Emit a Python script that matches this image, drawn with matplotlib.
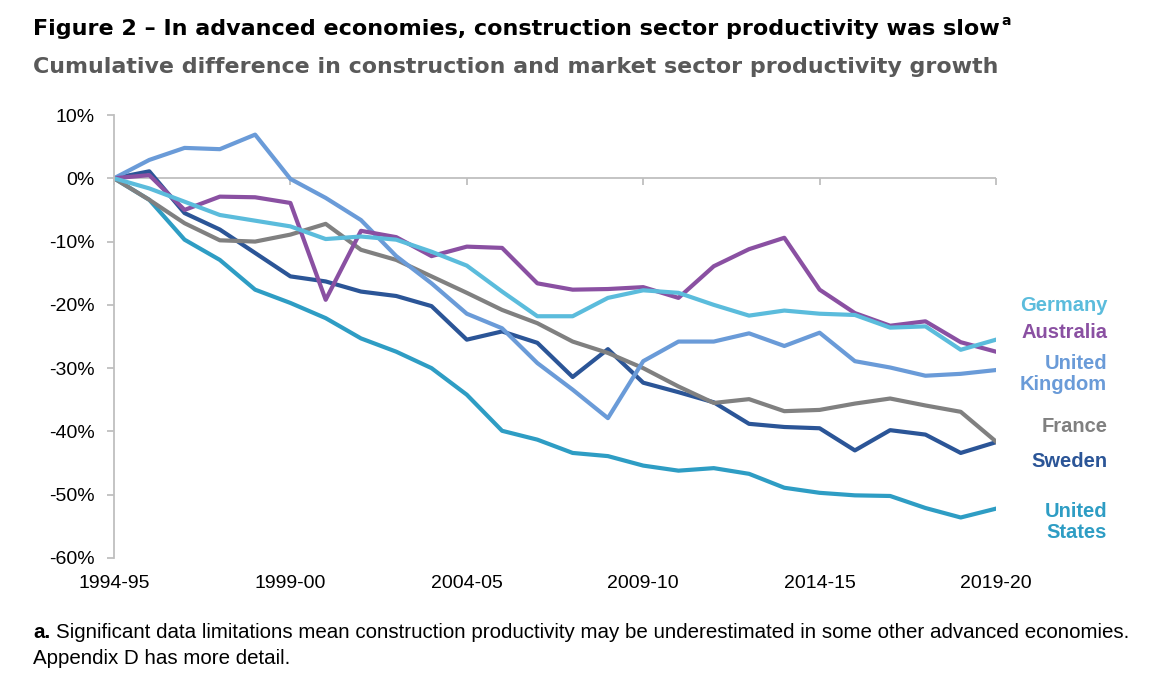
import numpy as np
from matplotlib import pyplot as plt
from matplotlib.ticker import NullFormatter

# financial years, one point per year
years = ["1994-95", "1995-96", "1996-97", "1997-98", "1998-99", "1999-00",
         "2000-01", "2001-02", "2002-03", "2003-04", "2004-05", "2005-06",
         "2006-07", "2007-08", "2008-09", "2009-10", "2010-11", "2011-12",
         "2012-13", "2013-14", "2014-15", "2015-16", "2016-17", "2017-18",
         "2018-19", "2019-20"]
xtick_labels = ["1994-95", "1999-00", "2004-05", "2009-10", "2014-15", "2019-20"]
ytick_values = [10, 0, -10, -20, -30, -40, -50, -60]
ytick_labels = ["10%", "0%", "-10%", "-20%", "-30%", "-40%", "-50%", "-60%"]

# cumulative difference, percent
germany = [0, -1.6, -3.7, -5.8, -6.7, -7.6, -9.6, -9.2, -9.7, -11.6, -13.8, -17.9,
           -21.8, -21.8, -18.9, -17.7, -18.1, -20.0, -21.7, -20.9, -21.4, -21.6,
           -23.6, -23.4, -27.1, -25.5]
australia = [0, 0.5, -5.0, -2.9, -3.0, -3.9, -19.2, -8.3, -9.3, -12.3, -10.8, -11.0,
             -16.6, -17.6, -17.5, -17.2, -18.9, -13.9, -11.2, -9.4, -17.6, -21.3,
             -23.3, -22.6, -25.9, -27.4]
uk = [0, 2.9, 4.8, 4.6, 6.9, -0.1, -3.1, -6.6, -12.3, -16.6, -21.4, -23.7,
      -29.2, -33.4, -37.9, -28.9, -25.8, -25.8, -24.5, -26.5, -24.4, -28.9,
      -29.9, -31.2, -30.9, -30.3]
france = [0, -3.4, -7.1, -9.8, -10.0, -8.9, -7.2, -11.3, -12.9, -15.5, -18.1, -20.8,
          -22.9, -25.8, -27.6, -30.0, -32.9, -35.5, -34.9, -36.8, -36.6, -35.6,
          -34.8, -35.9, -36.9, -41.6]
sweden = [0, 1.1, -5.5, -8.1, -11.8, -15.5, -16.3, -17.9, -18.6, -20.2, -25.5, -24.2,
          -26.0, -31.4, -27.0, -32.3, -33.8, -35.4, -38.8, -39.3, -39.5, -43.0,
          -39.8, -40.5, -43.4, -41.7]
us = [0, -3.4, -9.7, -12.9, -17.6, -19.7, -22.1, -25.3, -27.4, -30.0, -34.2, -39.9,
      -41.3, -43.4, -43.9, -45.4, -46.2, -45.8, -46.7, -48.9, -49.7, -50.1,
      -50.2, -52.1, -53.6, -52.2]

names = ["United\nStates", "Sweden", "France", "United\nKingdom", "Australia", "Germany"]
series = [us, sweden, france, uk, australia, germany]
colors = ["#2e9dc4", "#2b5597", "#808080", "#6a9bd8", "#8a50a2", "#5bbcdc"]
label_y = [-54.3, -44.8, -39.3, -30.9, -24.4, -20.1]

plt.rcParams['font.family'] = ['Liberation Sans', 'DejaVu Sans']

W, H = 1162, 694
fig = plt.figure(figsize=(W / 100, H / 100), dpi=100)
ax = fig.add_axes([114 / W, 1 - 558 / H, 882 / W, 443 / H])

x = np.arange(len(years))
ax.axhline(0, color="#bfbfbf", lw=1.3, zorder=1)
for vals, c in zip(series, colors):
    ax.plot(x, vals, color=c, lw=3, zorder=2)

ax.set_xlim(0, len(years) - 1)
ax.set_ylim(-60, 10)
ax.set_yticks(ytick_values)
ax.set_yticklabels(ytick_labels)
ax.set_xticks(x[::5])
ax.set_xticklabels(xtick_labels)

for s in ["top", "right", "bottom"]:
    ax.spines[s].set_visible(False)
ax.spines["left"].set_color("#bfbfbf")
ax.spines["left"].set_linewidth(1.3)
ax.tick_params(axis="y", length=5, width=1.3, color="#bfbfbf", labelsize=14, pad=9)
ax.tick_params(axis="x", length=0, labelsize=14, pad=12)

# tick marks hanging under the zero line
zero = ax.secondary_xaxis(6 / 7)
zero.xaxis.set_ticks_position("bottom")
zero.set_xticks(x[::5])
zero.xaxis.set_major_formatter(NullFormatter())
zero.tick_params(axis="x", direction="out", length=5, width=1.3, color="#bfbfbf")
for s in zero.spines.values():
    s.set_visible(False)

# country labels on the right
for name, c, ly in zip(names, colors, label_y):
    ax.text(1.126, ly, name, transform=ax.get_yaxis_transform(), ha="right",
            va="center", color=c, fontsize=14.5, fontweight="bold", linespacing=1.15)

heavy = ['DejaVu Sans']
title = fig.text(33 / W, 1 - 29 / H,
                 "Figure 2 \u2013 In advanced economies, construction sector productivity was slow",
                 fontsize=16, fontweight="bold", color="black", va="center", family=heavy)
sub = fig.text(33 / W, 1 - 67 / H,
               "Cumulative difference in construction and market sector productivity growth",
               fontsize=16, fontweight="bold", color="#595959", va="center", family=heavy)

# fit the heading widths to the page
fig.canvas.draw()
for t, right in [(title, 1003), (sub, 997)]:
    bb = t.get_window_extent()
    t.set_fontsize(t.get_fontsize() * (right - 33) / bb.width)
fig.canvas.draw()
bb = title.get_window_extent()
fig.text((bb.x1 + 2) / W, 1 - 21 / H, "a", fontsize=10, fontweight="bold",
         color="black", va="center", family=heavy)

fig.text(33 / W, 1 - 632 / H, "a.", fontsize=14.8, fontweight="bold", va="center")
fig.text(56 / W, 1 - 632 / H,
         "Significant data limitations mean construction productivity may be underestimated in some other advanced economies.",
         fontsize=14.8, va="center")
fig.text(33 / W, 1 - 659 / H, "Appendix D has more detail.", fontsize=14.8, va="center")

fig.savefig("out.png", dpi=100)
